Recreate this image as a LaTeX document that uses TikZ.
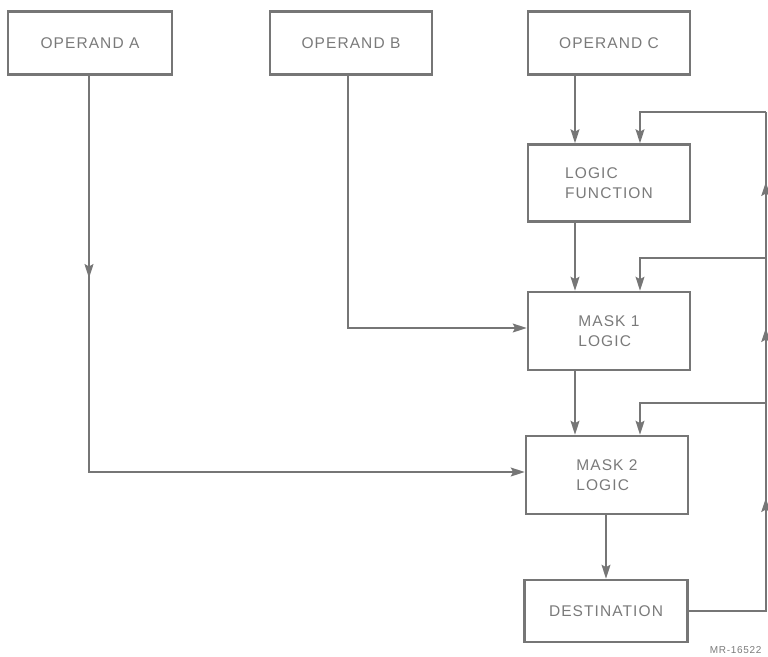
\documentclass[tikz,border=0pt]{standalone}
\usepackage{fontspec}
\setmainfont{Liberation Sans}[LetterSpace=7]
\usetikzlibrary{arrows.meta}
\definecolor{ink}{HTML}{767676}
\definecolor{txt}{HTML}{7A7A7A}
\begin{document}
\begin{tikzpicture}[x=1pt,y=-1pt,
  box/.style={draw=ink, line width=2.6pt, rectangle, inner sep=0pt,
    text=txt, font=\fontsize{15.5}{20}\selectfont, align=left},
  ln/.style={draw=ink, line width=1.6pt},
  tip/.style={-{Stealth[length=14pt,width=9pt,inset=2.5pt]}}]
\useasboundingbox (0,0) rectangle (768,656);

\node[box, minimum width=164pt, minimum height=63pt] (A) at (90,43) {OPERAND A};
\node[box, minimum width=162pt, minimum height=63pt] (B) at (351,43) {OPERAND B};
\node[box, minimum width=162pt, minimum height=63pt] (C) at (609,43) {OPERAND C};
\node[box, minimum width=162pt, minimum height=77pt] (LF) at (609,183) {LOGIC\\FUNCTION};
\node[box, minimum width=162pt, minimum height=78pt] (M1) at (609,331) {MASK 1\\LOGIC};
\node[box, minimum width=162pt, minimum height=78pt] (M2) at (607,475) {MASK 2\\LOGIC};
\node[box, minimum width=163pt, minimum height=62pt] (D) at (606,611) {DESTINATION};
\node[text=txt, font=\fontsize{10}{12}\selectfont, anchor=east] (mr) at (765,650) {MR-16522};

% operand A path
\coordinate (aMid) at (89,278);
\coordinate (aTurn) at (89,472);
\coordinate (m2in) at (M2.west |- aTurn);
\draw[ln,tip] (A.south -| aMid) -- (aTurn) -- (m2in);
\draw[ln,tip] (A.south -| aMid) -- (aMid);

% operand B path
\coordinate (bTurn) at (348,328);
\coordinate (m1in) at (M1.west |- bTurn);
\draw[ln,tip] (B.south -| bTurn) -- (bTurn) -- (m1in);

% main column
\coordinate (col) at (575,0);
\coordinate (col2) at (606,0);
\draw[ln,tip] (col |- C.south) -- (col |- LF.north);
\draw[ln,tip] (col |- LF.south) -- (col |- M1.north);
\draw[ln,tip] (col |- M1.south) -- (col |- M2.north);
\draw[ln,tip] (col2 |- M2.south) -- (col2 |- D.north);

% feedback
\coordinate (r0) at (765.8,611);
\coordinate (r1) at (765.8,498);
\coordinate (r2) at (765.8,328);
\coordinate (r3) at (765.8,182);
\coordinate (r4) at (765.8,112);
\coordinate (h2) at (765.8,258);
\coordinate (h3) at (765.8,403);
\coordinate (f1) at (640,112);
\coordinate (f2) at (640,258);
\coordinate (f3) at (640,403);
\draw[ln] (D.east |- r0) -- (r0) -- (r4);
\draw[ln,tip] (r0) -- (r1);
\draw[ln,tip] (r0) -- (r2);
\draw[ln,tip] (r0) -- (r3);
\draw[ln,tip] (r4) -- (f1) -- (f1 |- LF.north);
\draw[ln,tip] (h2) -- (f2) -- (f2 |- M1.north);
\draw[ln,tip] (h3) -- (f3) -- (f3 |- M2.north);
\end{tikzpicture}
\end{document}
